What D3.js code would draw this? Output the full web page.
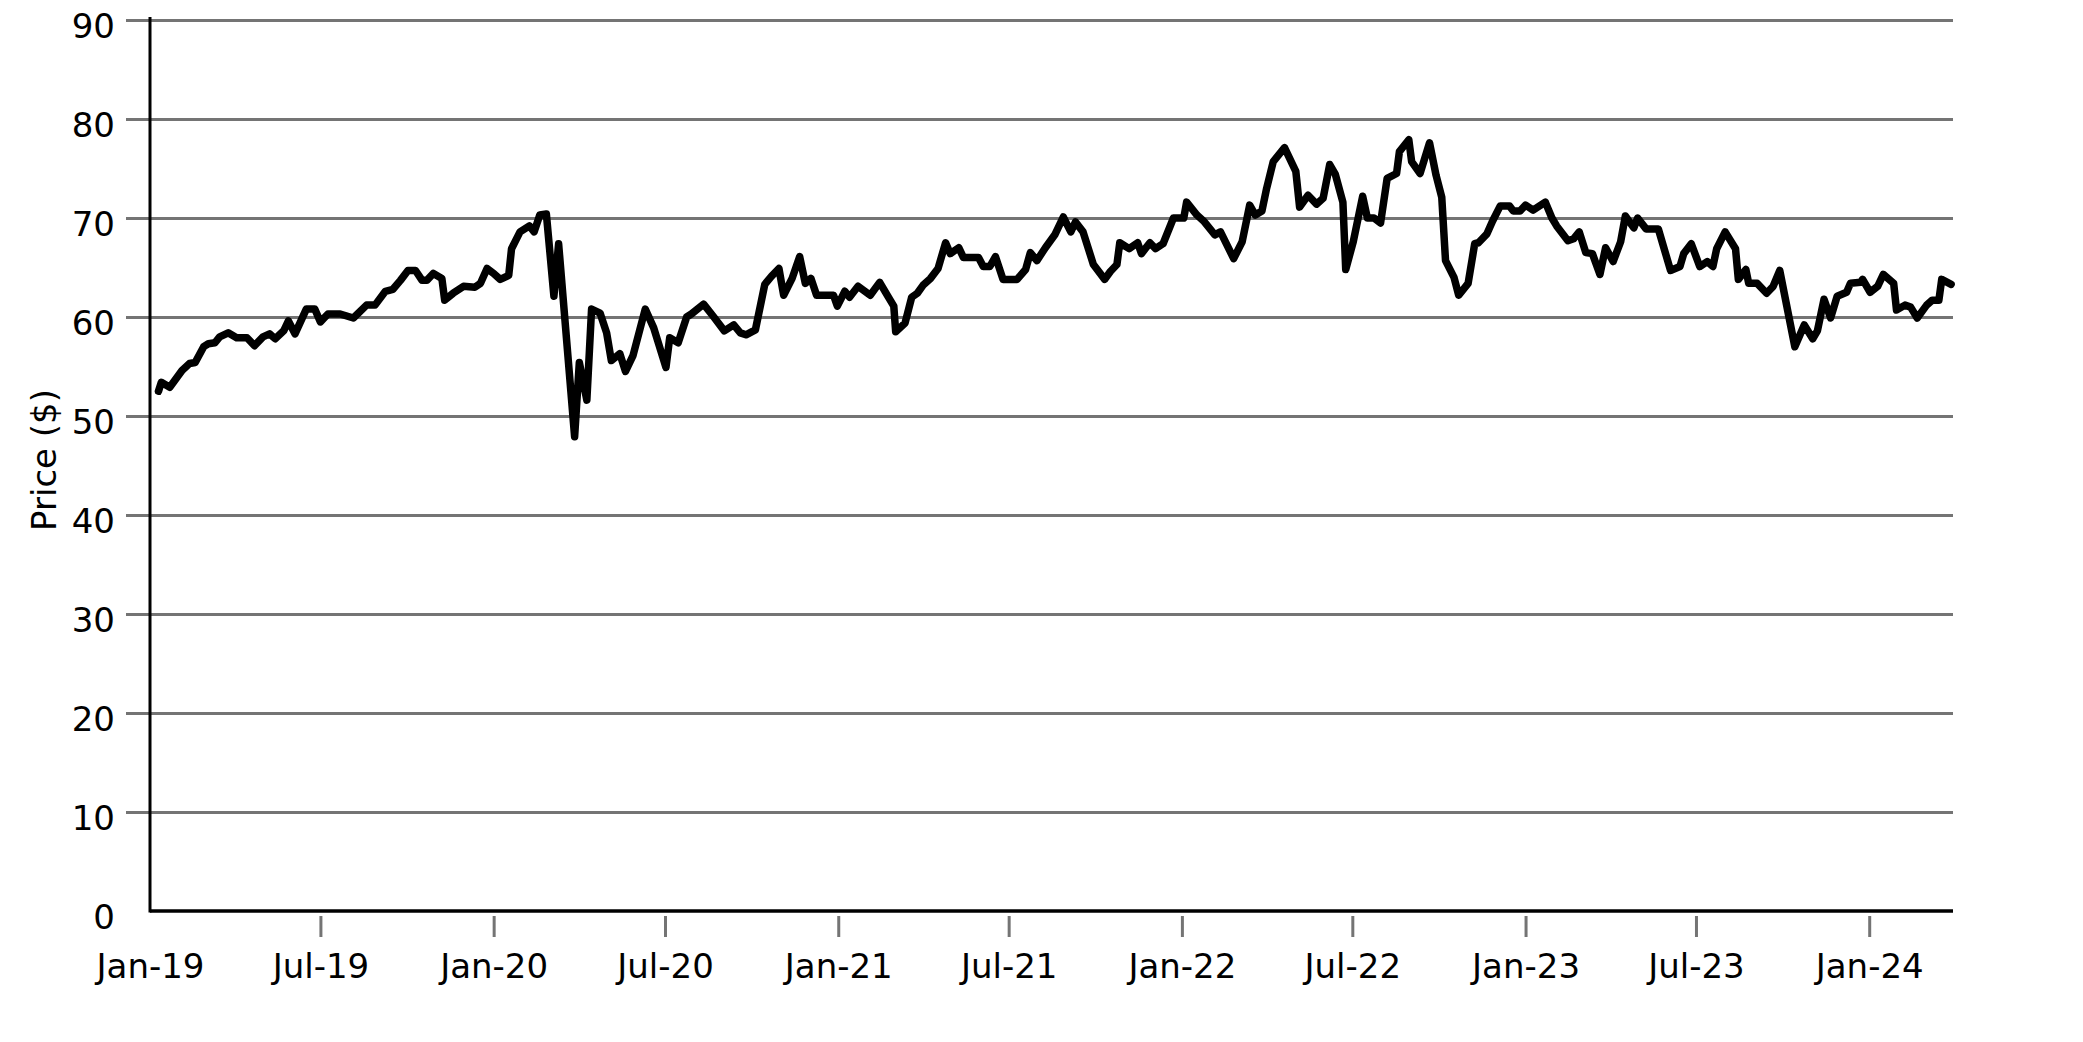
<!DOCTYPE html>
<html><head><meta charset="utf-8">
<script src="https://cdn.jsdelivr.net/npm/d3@7"></script>
<style>html,body{margin:0;padding:0;background:#fff;} svg{display:block;} text{font-family:"DejaVu Sans",sans-serif;}</style>
</head><body>
<svg id="chart" width="2083" height="1042"></svg>
<script>
const dates = ["2019-01-10","2019-01-13","2019-01-22","2019-02-04","2019-02-12","2019-02-18","2019-02-27","2019-03-04","2019-03-11","2019-03-16","2019-03-25","2019-04-03","2019-04-14","2019-04-22","2019-05-01","2019-05-08","2019-05-14","2019-05-23","2019-05-28","2019-06-04","2019-06-16","2019-06-25","2019-07-01","2019-07-09","2019-07-22","2019-08-05","2019-08-19","2019-08-28","2019-09-08","2019-09-16","2019-09-24","2019-10-02","2019-10-10","2019-10-17","2019-10-22","2019-10-29","2019-11-07","2019-11-10","2019-11-19","2019-11-30","2019-12-12","2019-12-18","2019-12-25",
"2020-01-01","2020-01-08","2020-01-17","2020-01-20","2020-01-29","2020-02-08","2020-02-13","2020-02-19","2020-02-26","2020-03-05","2020-03-10","2020-03-27","2020-04-01","2020-04-09","2020-04-14","2020-04-23","2020-04-30","2020-05-05","2020-05-14","2020-05-20","2020-05-28","2020-06-10","2020-06-19","2020-07-02","2020-07-06","2020-07-15","2020-07-24","2020-07-29","2020-08-11","2020-08-21","2020-09-02","2020-09-12","2020-09-19","2020-09-25","2020-10-05","2020-10-15","2020-10-22","2020-10-30","2020-11-04","2020-11-13","2020-11-21","2020-11-27","2020-12-03","2020-12-09","2020-12-27","2020-12-31",
"2021-01-08","2021-01-13","2021-01-22","2021-02-04","2021-02-14","2021-02-22","2021-03-01","2021-03-03","2021-03-13","2021-03-20","2021-03-26","2021-04-01","2021-04-09","2021-04-17","2021-04-25","2021-04-30","2021-05-09","2021-05-14","2021-05-30","2021-06-04","2021-06-11","2021-06-17","2021-06-25","2021-07-10","2021-07-19","2021-07-24","2021-07-31","2021-08-09","2021-08-19","2021-08-28","2021-09-05","2021-09-10","2021-09-18","2021-09-29","2021-10-11","2021-10-17","2021-10-24","2021-10-27","2021-11-06","2021-11-15","2021-11-19","2021-11-28","2021-12-04","2021-12-12","2021-12-23",
"2022-01-03","2022-01-06","2022-01-17","2022-01-24","2022-02-05","2022-02-11","2022-02-25","2022-03-06","2022-03-14","2022-03-20","2022-03-27","2022-04-01","2022-04-08","2022-04-20","2022-05-02","2022-05-06","2022-05-15","2022-05-24","2022-05-31","2022-06-07","2022-06-13","2022-06-21","2022-06-24","2022-07-02","2022-07-12","2022-07-17","2022-07-24","2022-07-31","2022-08-07","2022-08-17","2022-08-20","2022-08-30","2022-09-02","2022-09-11","2022-09-21","2022-09-28","2022-10-04","2022-10-08","2022-10-17","2022-10-22","2022-11-01","2022-11-08","2022-11-12","2022-11-21","2022-11-27","2022-12-05","2022-12-15","2022-12-19","2022-12-26",
"2023-01-01","2023-01-09","2023-01-22","2023-01-29","2023-02-03","2023-02-15","2023-02-21","2023-02-27","2023-03-06","2023-03-13","2023-03-21","2023-03-27","2023-04-04","2023-04-12","2023-04-17","2023-04-26","2023-04-30","2023-05-09","2023-05-22","2023-06-04","2023-06-14","2023-06-18","2023-06-26","2023-07-05","2023-07-13","2023-07-19","2023-07-23","2023-08-01","2023-08-12","2023-08-15","2023-08-23","2023-08-26","2023-09-04","2023-09-14","2023-09-21","2023-09-28","2023-10-14","2023-10-24","2023-11-02","2023-11-07","2023-11-14","2023-11-21","2023-11-28","2023-12-08","2023-12-12","2023-12-23","2023-12-25",
"2024-01-02","2024-01-10","2024-01-16","2024-01-27","2024-01-30","2024-02-08","2024-02-14","2024-02-21","2024-03-02","2024-03-08","2024-03-15","2024-03-18","2024-03-28"];

const prices = [52.5,53.4,52.9,54.6,55.3,55.4,57.0,57.3,57.4,58.0,58.4,57.9,57.9,57.1,58.0,58.3,57.8,58.6,59.6,58.3,60.8,60.8,59.5,60.3,60.3,59.9,61.2,61.2,62.6,62.8,63.7,64.7,64.7,63.7,63.7,64.4,63.9,61.7,62.4,63.1,63.0,63.4,64.9,
64.4,63.8,64.2,66.9,68.6,69.2,68.6,70.3,70.4,62.1,67.4,47.9,55.4,51.6,60.8,60.4,58.4,55.6,56.3,54.5,56.1,60.8,58.9,54.9,57.9,57.4,60.0,60.3,61.3,60.1,58.6,59.2,58.4,58.2,58.7,63.3,64.1,64.9,62.2,63.9,66.1,63.4,63.9,62.2,62.2,61.1,
62.6,62.0,63.1,62.2,63.5,62.2,61.1,58.5,59.4,62.0,62.4,63.2,63.9,64.9,67.5,66.4,67.0,66.0,66.0,65.1,65.1,66.1,63.8,63.8,64.8,66.5,65.7,67.0,68.3,70.1,68.6,69.6,68.6,65.3,63.8,64.6,65.3,67.5,66.9,67.5,66.4,67.5,66.9,67.4,70.0,
70.0,71.6,70.3,69.7,68.3,68.6,65.9,67.6,71.3,70.3,70.7,73.0,75.7,77.1,74.7,71.1,72.3,71.4,72.0,75.4,74.4,71.6,64.8,67.6,72.2,70.0,70.0,69.5,74.0,74.5,76.7,77.9,75.7,74.5,77.6,74.3,72.1,65.7,64.0,62.2,63.4,67.4,67.5,68.4,69.7,71.2,71.2,70.7,70.7,
71.3,70.8,71.6,70.0,69.2,67.7,67.9,68.6,66.5,66.4,64.3,67.0,65.6,67.6,70.2,69.0,70.0,68.9,68.9,64.7,65.1,66.4,67.4,65.1,65.6,65.1,66.9,68.6,66.9,63.8,64.8,63.4,63.4,62.4,63.1,64.7,57.0,59.2,57.8,58.6,61.8,59.9,62.1,62.5,63.4,63.5,63.8,
62.5,63.1,64.3,63.4,60.7,61.2,61.0,59.9,61.2,61.7,61.7,63.8,63.3];

const yTicks = [0,10,20,30,40,50,60,70,80,90];
const xTickDates = ["2019-01-01","2019-07-01","2020-01-01","2020-07-01","2021-01-01","2021-07-01","2022-01-01","2022-07-01","2023-01-01","2023-07-01","2024-01-01"];
const xTickLabels = ["Jan-19","Jul-19","Jan-20","Jul-20","Jan-21","Jul-21","Jan-22","Jul-22","Jan-23","Jul-23","Jan-24"];
const yTitle = "Price ($)";
const xDomain = ["2019-01-01","2024-03-30"];
const yDomain = [0, 90];

const parse = d3.timeParse("%Y-%m-%d");
const svg = d3.select("#chart");
const L = 150, R = 1953, T = 20, B = 911;
const x = d3.scaleTime().domain(xDomain.map(parse)).range([L, R]);
const y = d3.scaleLinear().domain(yDomain).range([B, T]);
const GRID = "#747474";
const FS = 34;

// grid lines
const grid = svg.append("g").attr("transform", `translate(${L},0)`)
  .call(d3.axisLeft(y).tickValues(yTicks.filter(v => v > 0)).tickSize(-(R - L)).tickFormat(""));
grid.select(".domain").remove();
grid.selectAll("line").attr("stroke", GRID).attr("stroke-width", 3);

// y axis ticks + labels
const ya = svg.append("g").attr("transform", `translate(${L},0)`)
  .call(d3.axisLeft(y).tickValues(yTicks).tickSize(24).tickPadding(11));
ya.select(".domain").remove();
ya.selectAll("line").attr("stroke", GRID).attr("stroke-width", 3).filter(d => d === 0).remove();
ya.selectAll("text").attr("font-size", FS).attr("font-family", "DejaVu Sans").attr("fill", "#000").attr("dy", "0.5em");

// x axis ticks + labels
const xa = svg.append("g").attr("transform", `translate(0,916)`)
  .call(d3.axisBottom(x).tickValues(xTickDates.map(parse)).tickSize(21).tickPadding(17)
    .tickFormat((d, i) => xTickLabels[i]));
xa.select(".domain").remove();
xa.selectAll("line").attr("stroke", GRID).attr("stroke-width", 3).filter((d, i) => i === 0).remove();
xa.selectAll("text").attr("font-size", FS).attr("font-family", "DejaVu Sans").attr("fill", "#000");

// axis lines
svg.append("line").attr("x1", L).attr("x2", L).attr("y1", 17).attr("y2", B + 1.5)
  .attr("stroke", "#000").attr("stroke-width", 3);
svg.append("line").attr("x1", L).attr("x2", R).attr("y1", B).attr("y2", B)
  .attr("stroke", "#000").attr("stroke-width", 3.5);

// y title
svg.append("text").attr("transform", `translate(44,460) rotate(-90)`)
  .attr("text-anchor", "middle").attr("dy", "0.35em")
  .attr("font-size", FS).attr("font-family", "DejaVu Sans").attr("fill", "#000").text(yTitle);

// price line
const series = dates.map((d, i) => ({ date: parse(d), v: prices[i] }));
svg.append("path").datum(series)
  .attr("fill", "none").attr("stroke", "#000").attr("stroke-width", 7.5)
  .attr("stroke-linejoin", "round").attr("stroke-linecap", "round")
  .attr("d", d3.line().x(d => x(d.date)).y(d => y(d.v)));
</script>
</body></html>
